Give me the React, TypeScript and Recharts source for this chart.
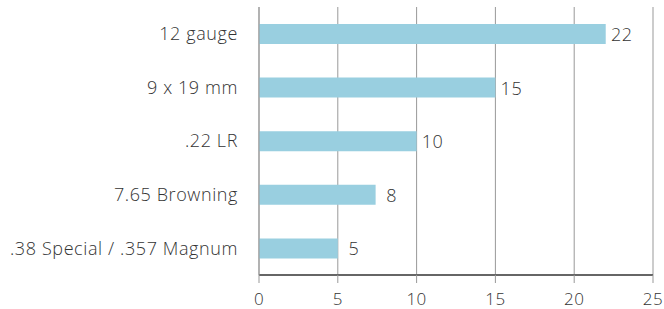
import React from "react";
import { Bar, BarChart, CartesianGrid, LabelList, XAxis, YAxis } from "recharts";

const categories = [
  "12 gauge",
  "9 x 19 mm",
  ".22 LR",
  "7.65 Browning",
  ".38 Special / .357 Magnum",
];
const barValues = [22, 15, 10, 7.4, 5];
const valueLabels = ["22", "15", "10", "8", "5"];
const xTicks = [0, 5, 10, 15, 20, 25];
const bandEdges = [0, 1, 2, 3, 4, 5];

const data = categories.map((name, i) => ({
  name,
  value: barValues[i],
  label: valueLabels[i],
}));

const FONT = "'Open Sans', sans-serif";
const TEXT = "#333";

// tick marks between categories; the bottom one continues the x axis to the left
function EdgeTick(props: any) {
  const { x, y, payload } = props;
  if (payload.value !== 0) return null;
  return <line x1={x - 4} x2={x + 6} y1={y} y2={y} stroke="#666" strokeWidth={2} />;
}

function ValueLabel(props: any) {
  const { x, y, width, height, value } = props;
  return (
    <text
      x={Number(x) + Number(width) + 16}
      y={Number(y) + Number(height) / 2}
      textAnchor="middle"
      dominantBaseline="central"
      fill={TEXT}
      fontSize={18}
      fontWeight={300}
      fontFamily={FONT}
      letterSpacing={0.5}
    >
      {value}
    </text>
  );
}

export default function App() {
  return (
    <div style={{ position: "fixed", top: 0, left: 0, background: "#fff", fontFamily: FONT }}>
      <BarChart
        layout="vertical"
        width={664}
        height={309}
        data={data}
        margin={{ top: 7, right: 11, bottom: 0, left: 0 }}
      >
        <CartesianGrid horizontal={false} stroke="#999" />
        <XAxis
          type="number"
          domain={[0, 25]}
          ticks={xTicks}
          height={34}
          tickSize={8}
          tickMargin={10}
          axisLine={{ stroke: "#666", strokeWidth: 2 }}
          tickLine={{ stroke: "#999" }}
          tick={{ fill: TEXT, fontSize: 17, fontWeight: 300, fontFamily: FONT, letterSpacing: 0.5 }}
        />
        <YAxis
          type="number"
          domain={[0, 5]}
          ticks={bandEdges}
          width={0}
          tickSize={6}
          tickMargin={0}
          axisLine={false}
          tickLine={{ stroke: "#888" }}
          tick={<EdgeTick />}
        />
        <YAxis
          yAxisId="cat"
          type="category"
          dataKey="name"
          width={259}
          tickSize={6}
          tickMargin={15}
          tickLine={false}
          axisLine={{ stroke: "#999" }}
          tick={{ fill: TEXT, fontSize: 18, fontWeight: 300, fontFamily: FONT, letterSpacing: 0.6 }}
        />
        <Bar dataKey="value" yAxisId="cat" fill="#99cfe0" barSize={20} isAnimationActive={false}>
          <LabelList dataKey="label" content={<ValueLabel />} />
        </Bar>
      </BarChart>
    </div>
  );
}
